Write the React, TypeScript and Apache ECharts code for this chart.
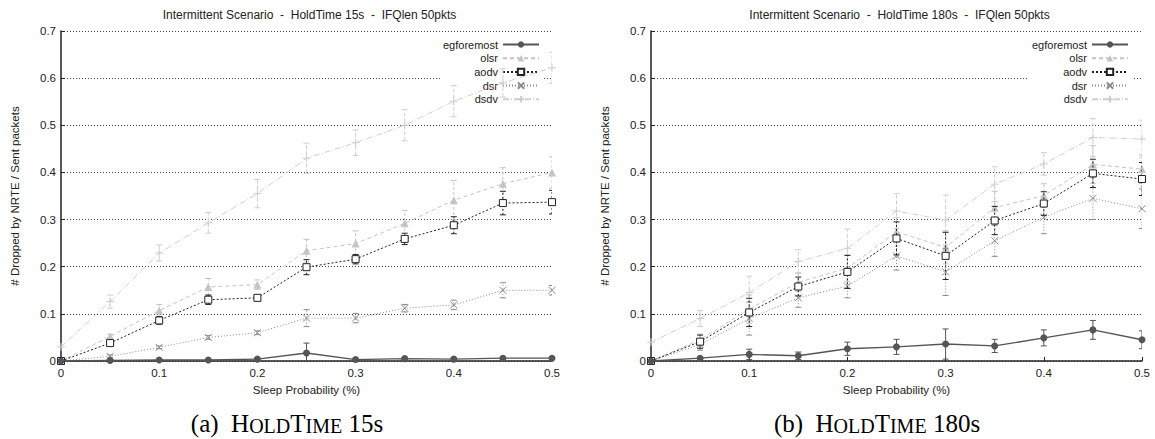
import React, { useEffect, useRef } from "react";
import * as echarts from "echarts";

// ---------- data ----------
const sleepProb = [0, 0.05, 0.1, 0.15, 0.2, 0.25, 0.3, 0.35, 0.4, 0.45, 0.5];
const seriesNames = ["egforemost", "olsr", "aodv", "dsr", "dsdv"];
const chartTitles = [
  "Intermittent Scenario  -  HoldTime 15s  -  IFQlen 50pkts",
  "Intermittent Scenario  -  HoldTime 180s  -  IFQlen 50pkts",
];
const xAxisName = "Sleep Probability (%)";
const yAxisName = "# Dropped by NRTE / Sent packets";
const captionLetters = ["(a)", "(b)"];
const captionValues = ["15s", "180s"];

// HoldTime 15s
const h15Egforemost = [0, 0.001, 0.002, 0.002, 0.004, 0.017, 0.003, 0.005, 0.004, 0.006, 0.006];
const h15EgforemostErr = [0, 0.001, 0.001, 0.001, 0.002, 0.021, 0.002, 0.002, 0.002, 0.002, 0.002];
const h15Olsr = [0, 0.052, 0.107, 0.157, 0.162, 0.234, 0.249, 0.292, 0.341, 0.376, 0.4];
const h15OlsrErr = [0, 0.005, 0.013, 0.018, 0.01, 0.024, 0.027, 0.027, 0.042, 0.034, 0.033];
const h15Aodv = [0, 0.038, 0.086, 0.13, 0.134, 0.199, 0.216, 0.259, 0.288, 0.335, 0.337];
const h15AodvErr = [0, 0.004, 0.008, 0.01, 0.005, 0.016, 0.01, 0.012, 0.018, 0.025, 0.025];
const h15Dsr = [0, 0.01, 0.029, 0.05, 0.06, 0.091, 0.091, 0.112, 0.119, 0.15, 0.15];
const h15DsrErr = [0, 0.003, 0.003, 0.004, 0.004, 0.018, 0.01, 0.008, 0.01, 0.016, 0.01];
const h15Dsdv = [0.03, 0.126, 0.229, 0.293, 0.355, 0.43, 0.463, 0.5, 0.551, 0.59, 0.622];
const h15DsdvErr = [0, 0.014, 0.017, 0.022, 0.03, 0.032, 0.027, 0.033, 0.033, 0.03, 0.033];

// HoldTime 180s
const h180Egforemost = [0, 0.006, 0.014, 0.011, 0.026, 0.03, 0.036, 0.032, 0.049, 0.066, 0.045];
const h180EgforemostErr = [0, 0.002, 0.011, 0.008, 0.014, 0.016, 0.032, 0.014, 0.017, 0.02, 0.019];
const h180Olsr = [0, 0.045, 0.11, 0.167, 0.197, 0.274, 0.241, 0.325, 0.351, 0.417, 0.407];
const h180OlsrErr = [0, 0.012, 0.03, 0.02, 0.028, 0.03, 0.035, 0.035, 0.025, 0.04, 0.03];
const h180Aodv = [0, 0.041, 0.103, 0.158, 0.189, 0.26, 0.223, 0.298, 0.334, 0.398, 0.386];
const h180AodvErr = [0, 0.014, 0.03, 0.02, 0.035, 0.035, 0.05, 0.03, 0.025, 0.03, 0.035];
const h180Dsr = [0, 0.035, 0.09, 0.134, 0.159, 0.223, 0.189, 0.255, 0.305, 0.345, 0.323];
const h180DsrErr = [0, 0.012, 0.035, 0.02, 0.025, 0.03, 0.05, 0.033, 0.035, 0.045, 0.042];
const h180Dsdv = [0.04, 0.09, 0.145, 0.211, 0.239, 0.318, 0.299, 0.375, 0.418, 0.474, 0.471];
const h180DsdvErr = [0, 0.017, 0.035, 0.025, 0.041, 0.037, 0.053, 0.037, 0.024, 0.04, 0.04];

const panelValues = [
  [h15Egforemost, h15Olsr, h15Aodv, h15Dsr, h15Dsdv],
  [h180Egforemost, h180Olsr, h180Aodv, h180Dsr, h180Dsdv],
];
const panelErrors = [
  [h15EgforemostErr, h15OlsrErr, h15AodvErr, h15DsrErr, h15DsdvErr],
  [h180EgforemostErr, h180OlsrErr, h180AodvErr, h180DsrErr, h180DsdvErr],
];

// ---------- styles ----------
const SANS = "'Liberation Sans', Arial, Helvetica, sans-serif";
const SERIF = "'Liberation Serif', 'Times New Roman', serif";
const TEXT = "#222";

const styles: Record<string, any> = {
  egforemost: { color: "#555", dash: "solid", width: 1.4, symbol: "circle", size: 7, fill: "#555", bw: 0, z: 6, errDash: null },
  olsr: { color: "#c4c4c4", dash: [4, 3], width: 1, symbol: "triangle", size: 8, fill: "#c4c4c4", bw: 0, z: 3, errDash: [3, 2] },
  aodv: { color: "#222", dash: [2, 2], width: 1, symbol: "path://M0,0L10,0L10,10L0,10Z", size: 7, fill: "#fff", bw: 1, z: 5, errDash: [2, 2] },
  dsr: { color: "#8a8a8a", dash: [1, 2], width: 1, symbol: "path://M0,0L10,10M0,10L10,0", size: 7, fill: "#8a8a8a", bw: 1, z: 4, errDash: [1, 2] },
  dsdv: { color: "#cfcfcf", dash: [6, 2, 1, 2], width: 1, symbol: "path://M5,0L5,10M0,5L10,5", size: 8, fill: "#cfcfcf", bw: 1, z: 2, errDash: [4, 2] },
};

const gridLefts = [61, 651];
const gridWidth = 491;
const gridTop = 31;
const gridHeight = 330;

function buildOption() {
  const grid: any[] = [];
  const xAxis: any[] = [];
  const yAxis: any[] = [];
  const series: any[] = [];
  const legend: any[] = [];
  const graphic: any[] = [];

  [0, 1].forEach((p) => {
    grid.push({ left: gridLefts[p], top: gridTop, width: gridWidth, height: gridHeight, containLabel: false });
    xAxis.push({
      type: "value",
      gridIndex: p,
      min: 0,
      max: 0.5,
      interval: 0.1,
      name: xAxisName,
      nameLocation: "middle",
      nameGap: 22,
      nameTextStyle: { fontSize: 11.5, color: TEXT, fontFamily: SANS },
      axisLine: { show: true, lineStyle: { color: "#222", width: 1.5 } },
      axisTick: { show: true, inside: true, length: 4, lineStyle: { color: "#222" } },
      axisLabel: { fontSize: 11.5, color: TEXT, fontFamily: SANS, margin: 6 },
      splitLine: { show: false },
    });
    yAxis.push({
      type: "value",
      gridIndex: p,
      min: 0,
      max: 0.7,
      interval: 0.1,
      name: yAxisName,
      nameLocation: "middle",
      nameGap: 40,
      nameTextStyle: { fontSize: 11.5, color: TEXT, fontFamily: SANS },
      axisLine: { show: true, lineStyle: { color: "#222", width: 1.5 } },
      axisTick: { show: true, inside: true, length: 4, lineStyle: { color: "#222" } },
      axisLabel: { fontSize: 11.5, color: TEXT, fontFamily: SANS, margin: 5 },
      splitLine: { show: true, lineStyle: { color: "#444", width: 1, type: [1, 2] } },
    });

    seriesNames.forEach((name, k) => {
      const st = styles[name];
      const vals = panelValues[p][k];
      const errs = panelErrors[p][k];
      series.push({
        type: "custom",
        xAxisIndex: p,
        yAxisIndex: p,
        silent: true,
        clip: true,
        z: st.z,
        data: sleepProb
          .map((x, i) => [x, Math.max(0, vals[i] - errs[i]), vals[i] + errs[i]])
          .filter((d) => d[2] - d[1] > 0.0015),
        encode: { x: 0, y: [1, 2] },
        renderItem: (params: any, api: any) => {
          const lo = api.coord([api.value(0), api.value(1)]);
          const hi = api.coord([api.value(0), api.value(2)]);
          const cap = 3;
          const style: any = { stroke: st.color, lineWidth: 1, fill: null };
          if (st.errDash) style.lineDash = st.errDash;
          return {
            type: "group",
            children: [
              { type: "line", shape: { x1: lo[0], y1: lo[1], x2: hi[0], y2: hi[1] }, style },
              { type: "line", shape: { x1: lo[0] - cap, y1: lo[1], x2: lo[0] + cap, y2: lo[1] }, style: { stroke: st.color, lineWidth: 1 } },
              { type: "line", shape: { x1: hi[0] - cap, y1: hi[1], x2: hi[0] + cap, y2: hi[1] }, style: { stroke: st.color, lineWidth: 1 } },
            ],
          };
        },
      });
      series.push({
        type: "line",
        name,
        xAxisIndex: p,
        yAxisIndex: p,
        silent: true,
        z: st.z,
        data: sleepProb.map((x, i) => [x, vals[i]]),
        symbol: st.symbol,
        symbolSize: st.size,
        symbolKeepAspect: true,
        showSymbol: true,
        lineStyle: { color: st.color, width: st.width, type: st.dash },
        itemStyle: { color: st.fill, borderColor: st.color, borderWidth: st.bw },
      });
    });

    legend.push({
      orient: "vertical",
      align: "right",
      right: p === 0 ? 612 : 23,
      top: 37,
      itemWidth: 36,
      itemHeight: 8,
      itemGap: 2.7,
      padding: [2, 3, 2, 3],
      backgroundColor: "#fff",
      z: 1,
      selectedMode: false,
      textStyle: { fontSize: 11, color: TEXT, fontFamily: SANS },
      data: seriesNames,
    });

    const cx = gridLefts[p] + gridWidth / 2 + 3;
    graphic.push({
      type: "text",
      x: cx,
      y: 15,
      style: { text: chartTitles[p], fontSize: 12, fontFamily: SANS, fill: TEXT, align: "center", verticalAlign: "middle" },
    });
    graphic.push({
      type: "text",
      x: p === 0 ? 287 : 877,
      y: 423,
      style: {
        text: `{n|${captionLetters[p]}  H}{s|OLD}{n|T}{s|IME}{n| ${captionValues[p]}}`,
        fill: "#000",
        fontFamily: SERIF,
        align: "center",
        verticalAlign: "middle",
        rich: {
          n: { fontSize: 25, fontFamily: SERIF, verticalAlign: "bottom" },
          s: { fontSize: 20, fontFamily: SERIF, verticalAlign: "bottom" },
        },
      },
    });
  });

  return { animation: false, backgroundColor: "#fff", grid, xAxis, yAxis, series, legend, graphic };
}

export default function App() {
  const ref = useRef<HTMLDivElement>(null);
  useEffect(() => {
    if (!ref.current) return;
    const chart = echarts.init(ref.current, undefined, { renderer: "svg" });
    chart.setOption(buildOption() as any);
    return () => chart.dispose();
  }, []);
  return (
    <div
      ref={ref}
      style={{ position: "fixed", left: 0, top: 0, width: 1155, height: 439, background: "#fff" }}
    />
  );
}
